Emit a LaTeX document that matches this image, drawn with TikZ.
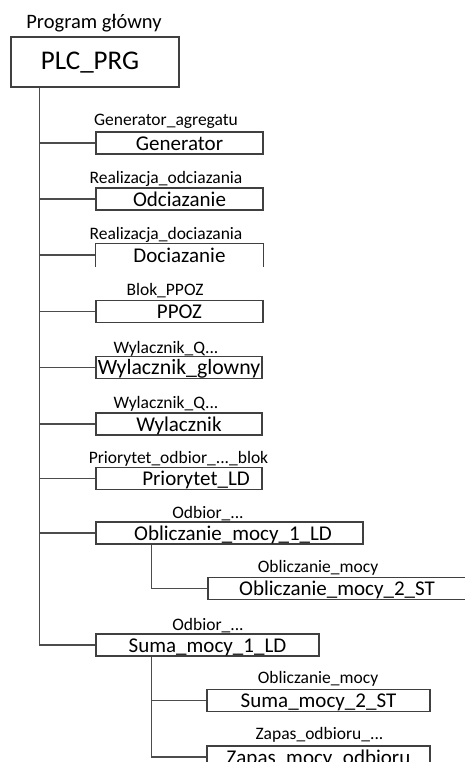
\documentclass[tikz,border=0pt]{standalone}
\usepackage{fontspec}
\setmainfont{Carlito}
\usetikzlibrary{positioning,calc}

\begin{document}
\begin{tikzpicture}[
    x=1pt, y=-1pt,
    mainbox/.style={rectangle, draw=black!75, line width=1.1pt, inner sep=0pt, minimum width=168pt, minimum height=50pt, text height=19pt, text depth=3pt, font=\fontsize{27}{27}\selectfont},
    blk/.style={rectangle, draw=black!75, line width=1.1pt, inner sep=0pt, minimum height=22pt, text height=15pt, text depth=1pt, font=\fontsize{21}{21}\selectfont},
    lbl/.style={anchor=base, inner sep=0pt, font=\fontsize{17.5}{17.5}\selectfont},
    link/.style={draw=black!70, line width=1.1pt}
]
\useasboundingbox (0,0) rectangle (465,762);

% Root
\node[anchor=base, inner sep=0pt, font=\fontsize{20.5}{20.5}\selectfont] (prgtitle) at (94,29) {Program główny};
\node[mainbox] (plc) at (95,62) {PLC\_PRG\hspace*{10pt}};

% Blocks called from PLC_PRG
\node[blk, minimum width=167pt] (gen) at (179.5,143) {Generator};
\node[blk, minimum width=167pt] (odc) at (179.5,199) {Odciazanie};
\node[blk, minimum width=167pt, draw=none] (doc) at (179.5,255) {Dociazanie};
\draw[draw=black!75, line width=1.1pt] (doc.south west) |- (doc.north east) -- (doc.south east);
\node[blk, minimum width=167pt] (ppoz) at (179.5,311.5) {PPOZ};
\node[blk, minimum width=166pt, font=\fontsize{21.8}{21.8}\selectfont] (wylg) at (179,367.5) {Wylacznik\_glowny};
\node[blk, minimum width=166pt] (wyl) at (179,424) {Wylacznik};
\node[blk, minimum width=166pt] (prio) at (179,478.5) {\hspace*{34pt}Priorytet\_LD};
\node[blk, minimum width=267pt] (obl1) at (229.5,533) {\hspace*{7pt}Obliczanie\_mocy\_1\_LD};
\node[blk, minimum width=258pt] (obl2) at (337,588.5) {Obliczanie\_mocy\_2\_ST};
\node[blk, minimum width=223pt] (suma1) at (207.5,645) {Suma\_mocy\_1\_LD};
\node[blk, minimum width=223pt] (suma2) at (318.5,700.5) {Suma\_mocy\_2\_ST};
\node[blk, minimum width=223pt] (zapas) at (318.5,757) {Zapas\_mocy\_odbioru};

% Instance names
\node[lbl] (lgen) at (166,126) {Generator\_agregatu};
\node[lbl] (lodc) at (166,183) {Realizacja\_odciazania};
\node[lbl] (ldoc) at (166,239) {Realizacja\_dociazania};
\node[lbl] (lppoz) at (165,295) {Blok\_PPOZ};
\node[lbl] (lwylg) at (166,353) {Wylacznik\_Q...};
\node[lbl] (lwyl) at (166,408) {Wylacznik\_Q...};
\node[lbl] (lprio) at (178.5,463) {Priorytet\_odbior\_...\_blok};
\node[lbl] (lobl1) at (208,518) {Odbior\_...};
\node[lbl] (lobl2) at (318,572) {Obliczanie\_mocy};
\node[lbl] (lsuma1) at (208,630) {Odbior\_...};
\node[lbl] (lsuma2) at (318,683) {Obliczanie\_mocy};
\node[lbl] (lzapas) at (319.5,739) {Zapas\_odbioru\_...};

% Connectors
\foreach \n in {gen,odc,doc,ppoz,wylg,wyl,prio,obl1,suma1}
    \draw[link] ([xshift=29pt]plc.south west) |- (\n.west);
\draw[link] ([xshift=56pt]obl1.south west) |- (obl2.west);
\foreach \n in {suma2,zapas}
    \draw[link] ([xshift=56pt]suma1.south west) |- (\n.west);

\end{tikzpicture}
\end{document}
